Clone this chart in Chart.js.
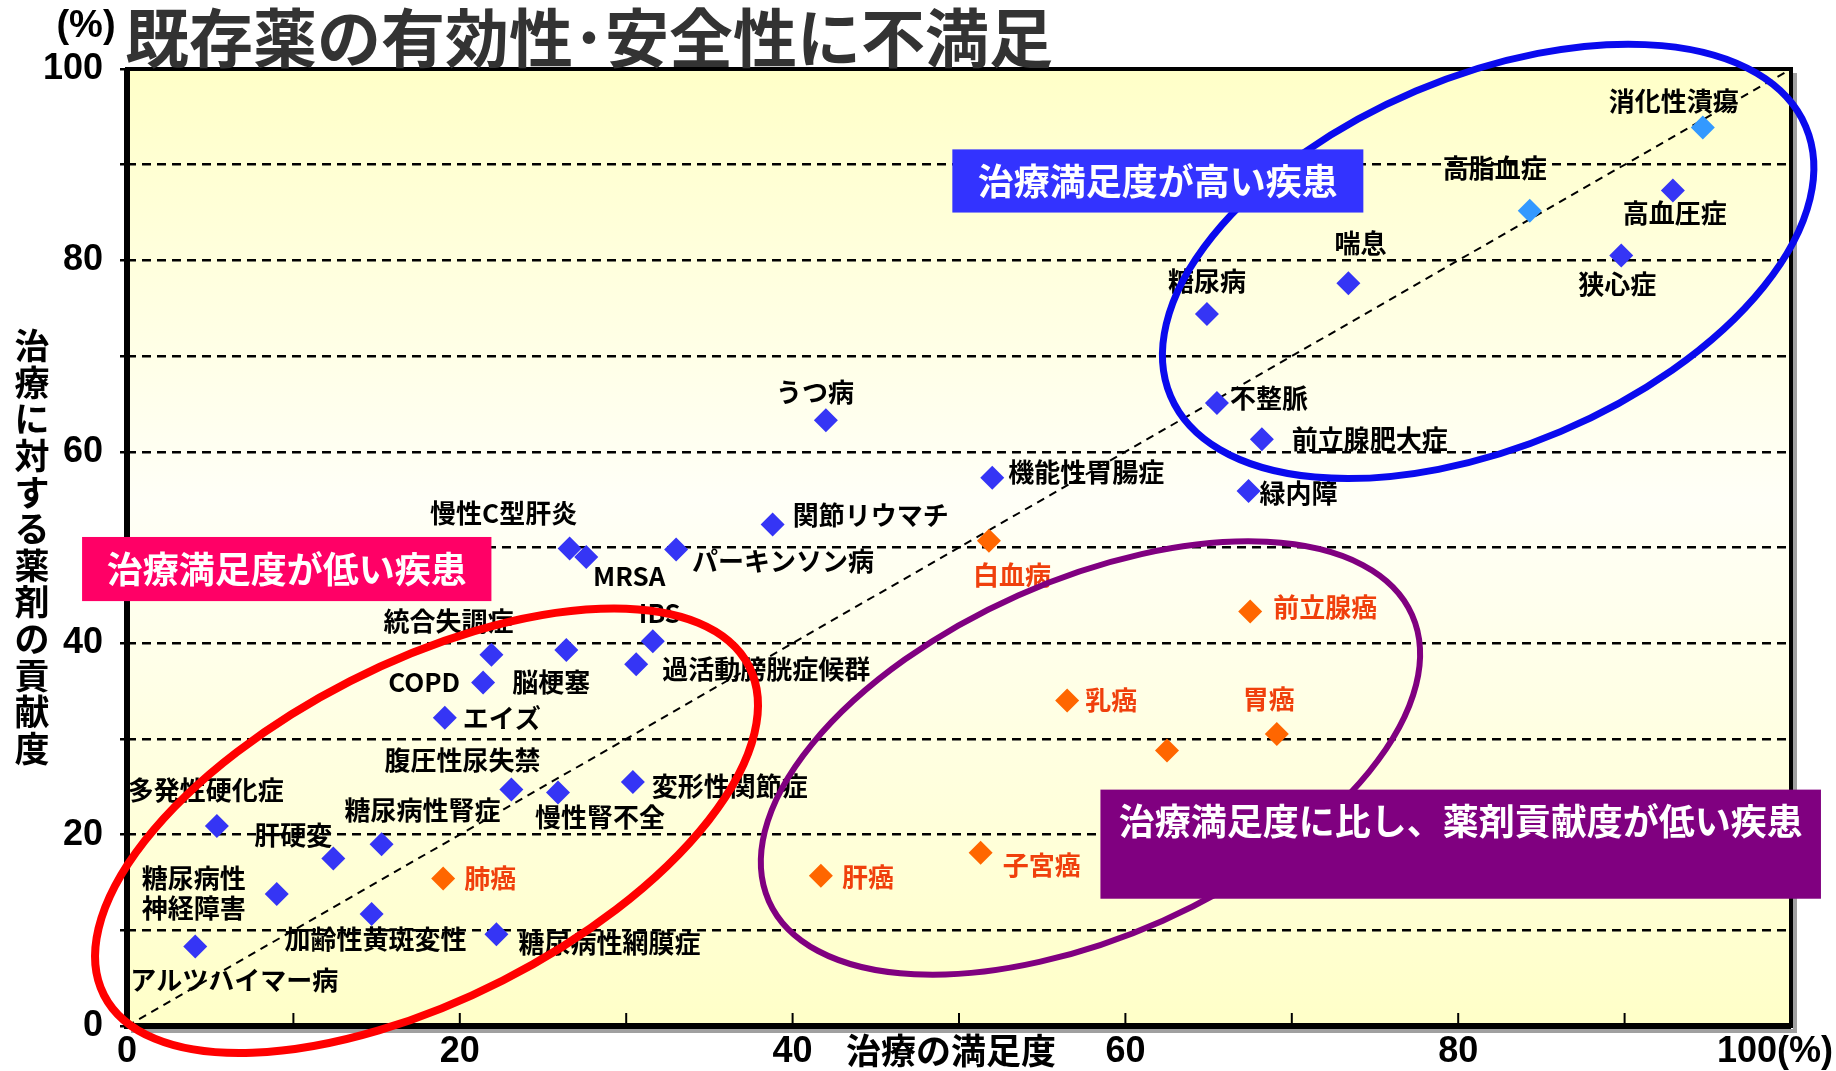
<!DOCTYPE html>
<html lang="ja">
<head>
<meta charset="utf-8">
<title>既存薬の有効性･安全性に不満足</title>
<script src="https://cdn.jsdelivr.net/npm/chart.js@4.4.1/dist/chart.umd.min.js"></script>
<style>
  html, body { margin: 0; padding: 0; background: #fff; }
</style>
</head>
<body>
<canvas id="myChart" width="1836" height="1071"></canvas>
<script>
// 疾患ごとの治療満足度(x, %)と治療に対する薬剤の貢献度(y, %)
const diseases = [
  '消化性潰瘍', '高脂血症', '高血圧症', '狭心症', '喘息', '糖尿病', '不整脈', '前立腺肥大症', '緑内障',
  '機能性胃腸症', 'うつ病', '関節リウマチ', '慢性C型肝炎', 'MRSA', 'パーキンソン病', '白血病',
  'IBS', '過活動膀胱症候群', '統合失調症', '脳梗塞', 'COPD', 'エイズ', '腹圧性尿失禁', '慢性腎不全',
  '変形性関節症', '多発性硬化症', '肝硬変', '糖尿病性腎症', '肺癌', '糖尿病性神経障害', '加齢性黄斑変性',
  '糖尿病性網膜症', 'アルツハイマー病', '前立腺癌', '乳癌', '胃癌', '', '子宮癌', '肝癌'
];
const satisfaction = [
  94.7, 84.3, 92.9, 89.8, 73.4, 64.9, 65.5, 68.2, 67.4,
  52.0, 42.0, 38.8, 26.6, 27.6, 33.0, 51.8,
  31.6, 30.6, 21.9, 26.4, 21.4, 19.1, 23.1, 25.9,
  30.4, 5.4, 12.4, 15.3, 19.0, 9.0, 14.7,
  22.2, 4.1, 67.5, 56.5, 69.1, 62.5, 51.3, 41.7
];
const contribution = [
  93.9, 85.2, 87.3, 80.5, 77.6, 74.4, 65.1, 61.3, 55.9,
  57.3, 63.3, 52.4, 49.9, 49.0, 49.8, 50.7,
  40.2, 37.8, 38.8, 39.3, 35.9, 32.2, 24.7, 24.4,
  25.5, 20.9, 17.5, 19.0, 15.4, 13.8, 11.7,
  9.6, 8.3, 43.3, 34.0, 30.5, 28.8, 18.1, 15.7
];
// 0: 一般疾患, 1: 満足度・貢献度とも上位, 2: がん
const category = [
  1, 1, 0, 0, 0, 0, 0, 0, 0,
  0, 0, 0, 0, 0, 0, 2,
  0, 0, 0, 0, 0, 0, 0, 0,
  0, 0, 0, 0, 2, 0, 0,
  0, 0, 2, 2, 2, 2, 2, 2
];
const xTickLabels = [0, 20, 40, 60, 80, 100];
const yTickLabels = [0, 20, 40, 60, 80, 100];

// 見た目の設定
const markerColors = ['#3535F5', '#3399FF', '#FF6600'];
const labelColors = ['#000000', '#000000', '#F0400C'];

// ラベル位置: 点からのずれ [dx, dy, 揃え]
const labelOffsets = {
  '消化性潰瘍': [-29, -26, 'center'], '高脂血症': [-35, -43, 'center'], '高血圧症': [2, 23, 'center'],
  '狭心症': [-4, 29, 'center'], '喘息': [12, -40, 'center'], '糖尿病': [0, -33, 'center'],
  '不整脈': [13, -5, 'left'], '前立腺肥大症': [30, 0, 'left'], '緑内障': [11, 2, 'left'],
  '機能性胃腸症': [16, -6, 'left'], 'うつ病': [-11, -28, 'center'], '関節リウマチ': [20, -9, 'left'],
  '慢性C型肝炎': [-66, -35, 'center'], 'MRSA': [43, 19, 'center'], 'パーキンソン病': [16, 12, 'left'],
  '白血病': [23, 34, 'center'], 'IBS': [7, -28, 'center'], '過活動膀胱症候群': [26, 5, 'left'],
  '統合失調症': [-43, -34, 'center'], '脳梗塞': [-15, 32, 'center'], 'COPD': [-23, 0, 'right'],
  'エイズ': [18, 0, 'left'], '腹圧性尿失禁': [-49, -29, 'center'], '慢性腎不全': [42, 25, 'center'],
  '変形性関節症': [19, 4, 'left'], '多発性硬化症': [-11, -36, 'center'], '肝硬変': [-40, -23, 'center'],
  '糖尿病性腎症': [41, -34, 'center'], '肺癌': [21, 0, 'left'], '糖尿病性神経障害': [-83, -1, 'center'],
  '加齢性黄斑変性': [4, 25, 'center'], '糖尿病性網膜症': [22, 9, 'left'], 'アルツハイマー病': [39, 34, 'center'],
  '前立腺癌': [23, -4, 'left'], '乳癌': [18, 0, 'left'], '胃癌': [-8, -35, 'center'],
  '子宮癌': [22, 12, 'left'], '肝癌': [21, 1, 'left']
};
const labelLines = { '糖尿病性神経障害': ['糖尿病性', '神経障害'] };

// グループを囲む楕円 (中心はデータ座標, 半径はpx)
const ellipses = [
  { cx: 81.8, cy: 79.9, rx: 345, ry: 185, angle: 23, color: '#0A0AEE', width: 7 },
  { cx: 18.0, cy: 20.4, rx: 362, ry: 168, angle: 27, color: '#FF0000', width: 8 },
  { cx: 57.9, cy: 28.0, rx: 352, ry: 178, angle: 24, color: '#800080', width: 6 }
];
// 吹き出しの帯 (データ座標)
const callouts = [
  { text: '治療満足度が高い疾患', x1: 49.6, x2: 74.3, y1: 91.6, y2: 85.0, fill: '#3333FF', textDy: 32 },
  { text: '治療満足度が低い疾患', x1: -2.7, x2: 21.9, y1: 51.1, y2: 44.4, fill: '#FF0066', textDy: 32 },
  { text: '治療満足度に比し、薬剤貢献度が低い疾患', x1: 58.5, x2: 101.8, y1: 24.7, y2: 13.3, fill: '#800080', textDy: 32 }
];

const JP = '"Noto Sans CJK JP", "Noto Sans", sans-serif';
const NARROW = '"Liberation Sans Narrow", "Liberation Sans", Arial, sans-serif';

const pointsFor = (cat) => satisfaction
  .map((x, i) => ({ x: x, y: contribution[i], name: diseases[i], cat: category[i] }))
  .filter(p => p.cat === cat);

const overlay = {
  id: 'overlay',
  beforeDraw(chart) {
    const { ctx, chartArea: a } = chart;
    ctx.save();
    ctx.fillStyle = '#ffffff';
    ctx.fillRect(0, 0, chart.width, chart.height);
    const g = ctx.createLinearGradient(0, a.top, 0, a.bottom);
    g.addColorStop(0, '#FFFFC8');
    g.addColorStop(0.45, '#FFFFF7');
    g.addColorStop(1, '#FFFFC8');
    ctx.fillStyle = g;
    ctx.fillRect(a.left, a.top, a.width, a.height);
    ctx.restore();
  },
  afterDatasetsDraw(chart) {
    const { ctx, chartArea: a } = chart;
    const xs = chart.scales.x, ys = chart.scales.y;
    ctx.save();

    // 枠と影
    ctx.fillStyle = '#a0a0a0';
    ctx.fillRect(a.right + 2, a.top + 4, 4, a.height + 2);
    ctx.fillRect(a.left + 4, a.bottom + 3, a.width + 2, 4);
    ctx.strokeStyle = '#000';
    ctx.lineWidth = 4;
    ctx.strokeRect(a.left, a.top, a.width, a.height);
    ctx.lineWidth = 6;
    ctx.beginPath();
    ctx.moveTo(a.left, a.top);
    ctx.lineTo(a.left, a.bottom);
    ctx.lineTo(a.right, a.bottom);
    ctx.stroke();

    // x軸の内向き目盛
    ctx.lineWidth = 2;
    xs.ticks.forEach(t => {
      if (t.value <= 0 || t.value >= 100) return;
      const px = xs.getPixelForValue(t.value);
      ctx.beginPath();
      ctx.moveTo(px, a.bottom);
      ctx.lineTo(px, a.bottom - 13);
      ctx.stroke();
    });

    // 疾患名
    ctx.font = 'bold 26px ' + JP;
    ctx.textBaseline = 'middle';
    diseases.forEach((name, i) => {
      if (!name) return;
      const off = labelOffsets[name] || [14, 0, 'left'];
      const px = xs.getPixelForValue(satisfaction[i]) + off[0];
      const py = ys.getPixelForValue(contribution[i]) + off[1];
      ctx.fillStyle = labelColors[category[i]];
      ctx.textAlign = off[2];
      const lines = labelLines[name] || [name];
      lines.forEach((line, k) => {
        ctx.fillText(line, px, py + (k - (lines.length - 1) / 2) * 30);
      });
    });

    // 楕円
    ellipses.forEach(e => {
      ctx.beginPath();
      ctx.ellipse(xs.getPixelForValue(e.cx), ys.getPixelForValue(e.cy), e.rx, e.ry,
        -e.angle * Math.PI / 180, 0, Math.PI * 2);
      ctx.strokeStyle = e.color;
      ctx.lineWidth = e.width;
      ctx.stroke();
    });

    // 吹き出し
    ctx.font = 'bold 36px ' + JP;
    ctx.textAlign = 'center';
    callouts.forEach(c => {
      const l = xs.getPixelForValue(c.x1), r = xs.getPixelForValue(c.x2);
      const t = ys.getPixelForValue(c.y1), b = ys.getPixelForValue(c.y2);
      ctx.fillStyle = c.fill;
      ctx.fillRect(l, t, r - l, b - t);
      ctx.fillStyle = '#ffffff';
      ctx.fillText(c.text, (l + r) / 2, t + c.textDy);
    });

    // タイトル
    ctx.fillStyle = '#333333';
    ctx.textAlign = 'left';
    ctx.font = 'bold 64px ' + JP;
    ctx.fillText('既存薬の有効性･安全性に不満足', a.left - 2, 38);

    // 単位
    ctx.fillStyle = '#000';
    ctx.font = 'bold 38px ' + NARROW;
    ctx.textAlign = 'center';
    ctx.fillText('(%)', 86, 27);
    ctx.font = 'bold 36px ' + NARROW;
    ctx.textAlign = 'right';
    ctx.fillText('100(%)', xs.getPixelForValue(100) + 42, a.bottom + 26);

    // 軸タイトル
    ctx.font = 'bold 35px ' + JP;
    ctx.textAlign = 'center';
    ctx.fillText('治療の満足度', (a.left + a.right) / 2 - 8, a.bottom + 25);
    const yTitle = '治療に対する薬剤の貢献度';
    [...yTitle].forEach((ch, k) => ctx.fillText(ch, 32, 346 + k * 36.6));

    ctx.restore();
  }
};

const ctx = document.getElementById('myChart').getContext('2d');
const myChart = new Chart(ctx, {
  type: 'scatter',
  data: {
    datasets: [
      ...[0, 1, 2].map(cat => ({
        data: pointsFor(cat),
        pointStyle: 'rectRot',
        pointRadius: 12,
        backgroundColor: markerColors[cat],
        borderWidth: 0,
        order: 1
      })),
      {
        type: 'line',
        data: [{ x: 0, y: 0 }, { x: 100, y: 100 }],
        borderColor: '#000',
        borderWidth: 2,
        borderDash: [8, 6],
        pointRadius: 0,
        fill: false,
        order: 5
      }
    ]
  },
  options: {
    responsive: false,
    animation: false,
    events: [],
    devicePixelRatio: 1,
    layout: { padding: { left: 0, right: 45, top: 69, bottom: 0 } },
    plugins: { legend: { display: false }, tooltip: { enabled: false } },
    scales: {
      x: {
        type: 'linear', min: 0, max: 100,
        ticks: {
          stepSize: 10, autoSkip: false, padding: 4, color: '#000',
          font: { family: NARROW, size: 36, weight: 'bold' },
          callback: v => (xTickLabels.includes(v) && v !== 100) ? String(v) : ''
        },
        grid: { display: false, drawTicks: false },
        border: { display: false },
        afterFit: s => { s.height = 45; s.paddingLeft = 0; s.paddingRight = 0; }
      },
      y: {
        type: 'linear', min: 0, max: 100,
        ticks: {
          stepSize: 10, autoSkip: false, padding: 17, color: '#000',
          font: { family: '"Liberation Sans", Arial, sans-serif', size: 36, weight: 'bold' },
          callback: v => yTickLabels.includes(v) ? String(v) : ''
        },
        grid: {
          color: c => (c.tick && (c.tick.value === 0 || c.tick.value === 100)) ? 'rgba(0,0,0,0)' : '#000',
          lineWidth: 2.5, tickLength: 7, tickColor: '#000', tickWidth: 2.5
        },
        border: { display: false, dash: [9, 6] },
        afterFit: s => { s.width = 127; }
      }
    }
  },
  plugins: [overlay]
});
</script>
</body>
</html>
